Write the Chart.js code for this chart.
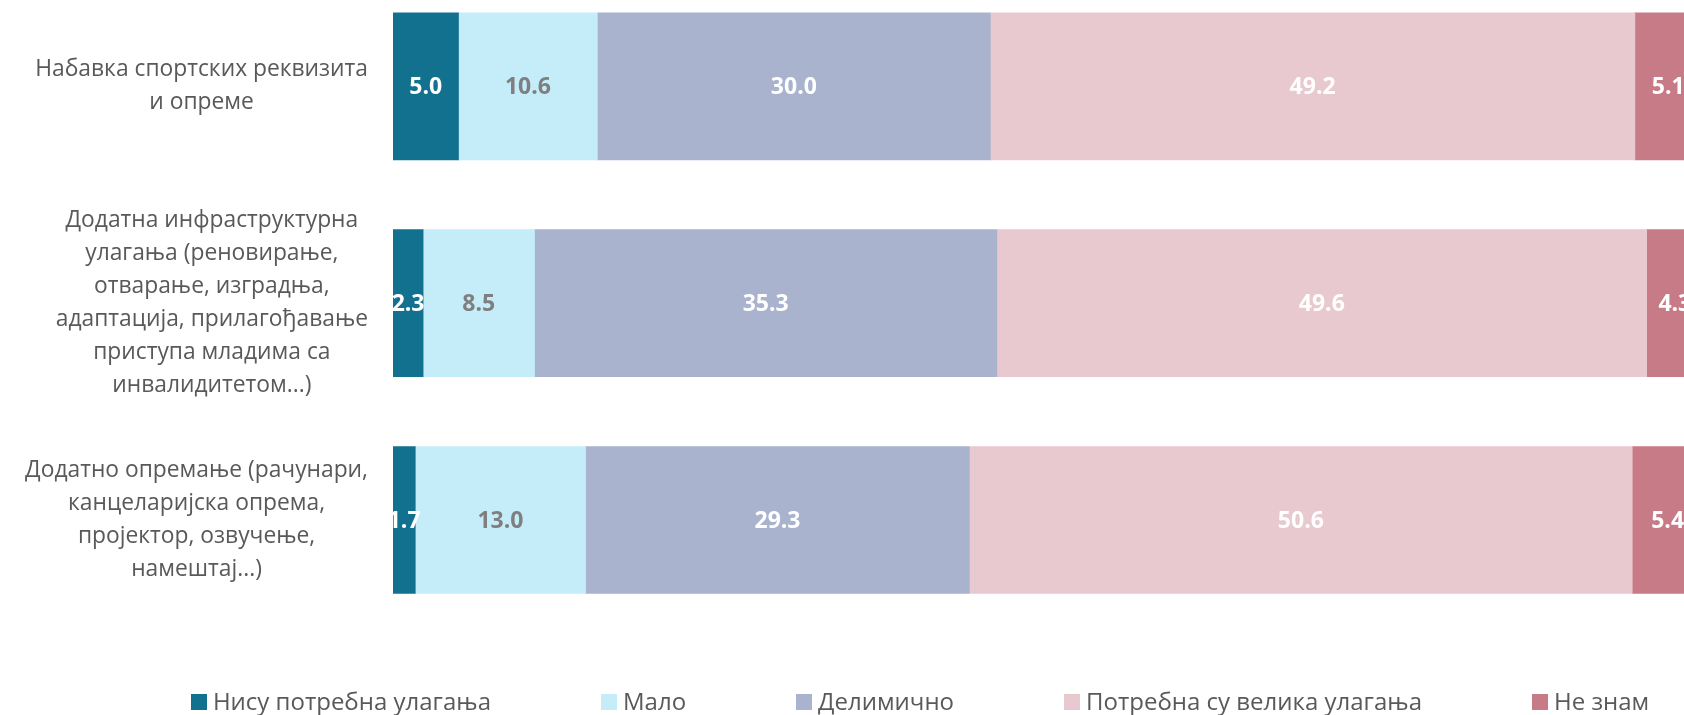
<!DOCTYPE html>
<html lang="sr">
<head>
<meta charset="utf-8">
<title>Потребна улагања</title>
<script src="https://cdn.jsdelivr.net/npm/chart.js@4.4.1/dist/chart.umd.min.js"></script>
<style>
    html, body { margin: 0; padding: 0; background: #fff; overflow: hidden; width: 1684px; height: 715px; }
    #wrap { position: absolute; left: 0; top: -22px; width: 1703px; height: 737px; }
    #legend {
        position: absolute; left: 137px; top: 686.5px; width: 1566px;
        margin: 0; padding: 0; list-style: none;
        display: flex; justify-content: center; gap: 110px;
        font: 24px "Open Sans", sans-serif; color: #595959; line-height: 28px;
    }
    #legend li { display: flex; align-items: center; white-space: nowrap; }
    #legend .box { display: inline-block; width: 16px; height: 16px; margin-right: 6px; position: relative; top: 1.5px; }
</style>
</head>
<body>
<div id="wrap"><canvas id="chart"></canvas></div>
<ul id="legend"></ul>
<script>
(function() {
    'use strict';

    // Categories (one array of wrapped lines per row)
    const categories = [
        ['Набавка спортских реквизита', 'и опреме'],
        ['Додатна инфраструктурна', 'улагања (реновирање,', 'отварање, изградња,', 'адаптација, прилагођавање', 'приступа младима са', 'инвалидитетом...)'],
        ['Додатно опремање (рачунари,', 'канцеларијска опрема,', 'пројектор, озвучење,', 'намештај...)']
    ];

    // Series, in percent
    const seriesNames = ['Нису потребна улагања', 'Мало', 'Делимично', 'Потребна су велика улагања', 'Не знам'];
    const notNeeded = [5.0, 2.3, 1.7];
    const little = [10.6, 8.5, 13.0];
    const partly = [30.0, 35.3, 29.3];
    const large = [49.2, 49.6, 50.6];
    const dontKnow = [5.1, 4.3, 5.4];

    const seriesValues = [notNeeded, little, partly, large, dontKnow];
    const seriesColors = ['#12718f', '#c4ecf9', '#a9b3cd', '#e9c9d0', '#c77b87'];
    const valueColors = ['#ffffff', '#7f7f7f', '#ffffff', '#ffffff', '#ffffff'];

    const FONT = '"Open Sans", sans-serif';
    const TEXT_GREY = '#595959';

    // Row labels: each block right-aligned to the axis, its lines centred
    const rowLabels = {
        id: 'rowLabels',
        afterDraw(chart) {
            const ctx = chart.ctx;
            const yScale = chart.scales.y;
            const right = chart.chartArea.left - 25;
            const lineHeight = 33;
            ctx.save();
            ctx.font = '22.8px ' + FONT;
            ctx.fillStyle = TEXT_GREY;
            ctx.textAlign = 'center';
            ctx.textBaseline = 'middle';
            chart.data.labels.forEach(function(lines, i) {
                const widest = Math.max.apply(null, lines.map(function(l) { return ctx.measureText(l).width; }));
                const cx = right - widest / 2;
                const cy = yScale.getPixelForValue(i);
                lines.forEach(function(line, k) {
                    ctx.fillText(line, cx, cy + (k - (lines.length - 1) / 2) * lineHeight);
                });
            });
            ctx.restore();
        }
    };

    // Value labels centred in each segment, cut at the plot's left edge
    const valueLabels = {
        id: 'valueLabels',
        afterDatasetsDraw(chart) {
            const ctx = chart.ctx;
            const area = chart.chartArea;
            ctx.save();
            ctx.beginPath();
            ctx.rect(area.left, 0, chart.width - area.left, chart.height);
            ctx.clip();
            ctx.font = 'bold 23px ' + FONT;
            ctx.textAlign = 'center';
            ctx.textBaseline = 'middle';
            chart.data.datasets.forEach(function(ds, i) {
                ctx.fillStyle = valueColors[i];
                chart.getDatasetMeta(i).data.forEach(function(bar, j) {
                    const p = bar.getProps(['x', 'y', 'base'], true);
                    ctx.fillText(ds.data[j].toFixed(1), (p.x + p.base) / 2, p.y + 1);
                });
            });
            ctx.restore();
        }
    };

    // Legend built in the page from the chart's own legend items
    const htmlLegend = {
        id: 'htmlLegend',
        afterUpdate(chart) {
            const list = document.getElementById('legend');
            while (list.firstChild) list.firstChild.remove();
            chart.options.plugins.legend.labels.generateLabels(chart).forEach(function(item) {
                const li = document.createElement('li');
                const box = document.createElement('span');
                box.className = 'box';
                box.style.background = item.fillStyle;
                const text = document.createElement('span');
                text.textContent = item.text;
                li.appendChild(box);
                li.appendChild(text);
                list.appendChild(li);
            });
        }
    };

    new Chart(document.getElementById('chart'), {
        type: 'bar',
        data: {
            labels: categories,
            datasets: seriesNames.map(function(name, i) {
                return {
                    label: name,
                    data: seriesValues[i],
                    backgroundColor: seriesColors[i],
                    borderColor: seriesColors[i],
                    borderWidth: 0,
                    barThickness: 147
                };
            })
        },
        options: {
            indexAxis: 'y',
            responsive: true,
            maintainAspectRatio: false,
            animation: false,
            events: [],
            layout: { padding: { left: 0, right: 0, top: 0, bottom: 86.6 } },
            scales: {
                x: { display: false, stacked: true, min: 0, max: 100 },
                y: {
                    stacked: true,
                    grid: { display: false }, border: { display: false },
                    ticks: { display: false },
                    afterFit: function(scale) { scale.width = 393; }
                }
            },
            plugins: {
                tooltip: { enabled: false },
                legend: { display: false }
            }
        },
        plugins: [valueLabels, rowLabels, htmlLegend]
    });
})();
</script>
</body>
</html>
